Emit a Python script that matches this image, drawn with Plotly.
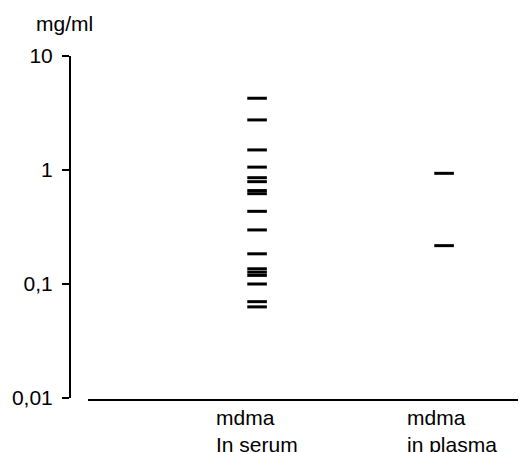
import plotly.graph_objects as go

# Data (mg/ml)
serum_values = [4.26, 2.75, 1.50, 1.06, 0.856, 0.79, 0.66, 0.62, 0.434, 0.298,
                0.184, 0.136, 0.127, 0.119, 0.10, 0.070, 0.063]
plasma_values = [0.935, 0.217]
group_positions = [0, 1]
group_labels = ["mdma<br>In serum", "mdma<br>in plasma"]
y_tickvals = [0.01, 0.1, 1, 10]
y_ticktext = ["0,01", "0,1", "1", "10"]

FONT = "Liberation Sans, Arial, sans-serif"
FS = 21

fig = go.Figure()
marker = dict(symbol="line-ew", size=14, color="black",
              line=dict(color="black", width=3))
fig.add_trace(go.Scatter(x=[group_positions[0]] * len(serum_values), y=serum_values,
                         mode="markers", marker=marker, showlegend=False,
                         hoverinfo="y"))
fig.add_trace(go.Scatter(x=[group_positions[1]] * len(plasma_values), y=plasma_values,
                         mode="markers", marker=marker, showlegend=False,
                         hoverinfo="y"))

label_x = [-0.230, 0.791]
for lx, txt in zip(label_x, group_labels):
    fig.add_annotation(x=lx, xref="x", y=-0.012, yref="paper", text=txt,
                       showarrow=False, xanchor="left", yanchor="top", align="left",
                       font=dict(family=FONT, size=FS, color="black"))

fig.add_annotation(x=0, xref="paper", y=1, yref="paper",
                   text="mg/ml", showarrow=False, xanchor="center", yanchor="bottom",
                   xshift=-6, yshift=19, font=dict(family=FONT, size=FS, color="black"))

fig.update_layout(
    width=518, height=444,
    margin=dict(l=62, r=0, t=48, b=52),
    paper_bgcolor="white", plot_bgcolor="white",
    font=dict(family=FONT, size=FS, color="black"),
    xaxis=dict(range=[-0.904, 1.438], domain=[18 / 456, 1], anchor="free", position=0,
               showline=True, linecolor="black", linewidth=2, showgrid=False,
               zeroline=False, showticklabels=False, ticks=""),
    yaxis=dict(type="log", range=[-2, 1], domain=[2 / 344, 1], anchor="free", position=0,
               showline=True, linecolor="black", linewidth=2, showgrid=False,
               zeroline=False, ticks="outside", ticklen=7, tickwidth=2, tickcolor="black",
               tickvals=y_tickvals, ticktext=y_ticktext, ticklabelstandoff=5),
)

fig.write_html("out.html")
